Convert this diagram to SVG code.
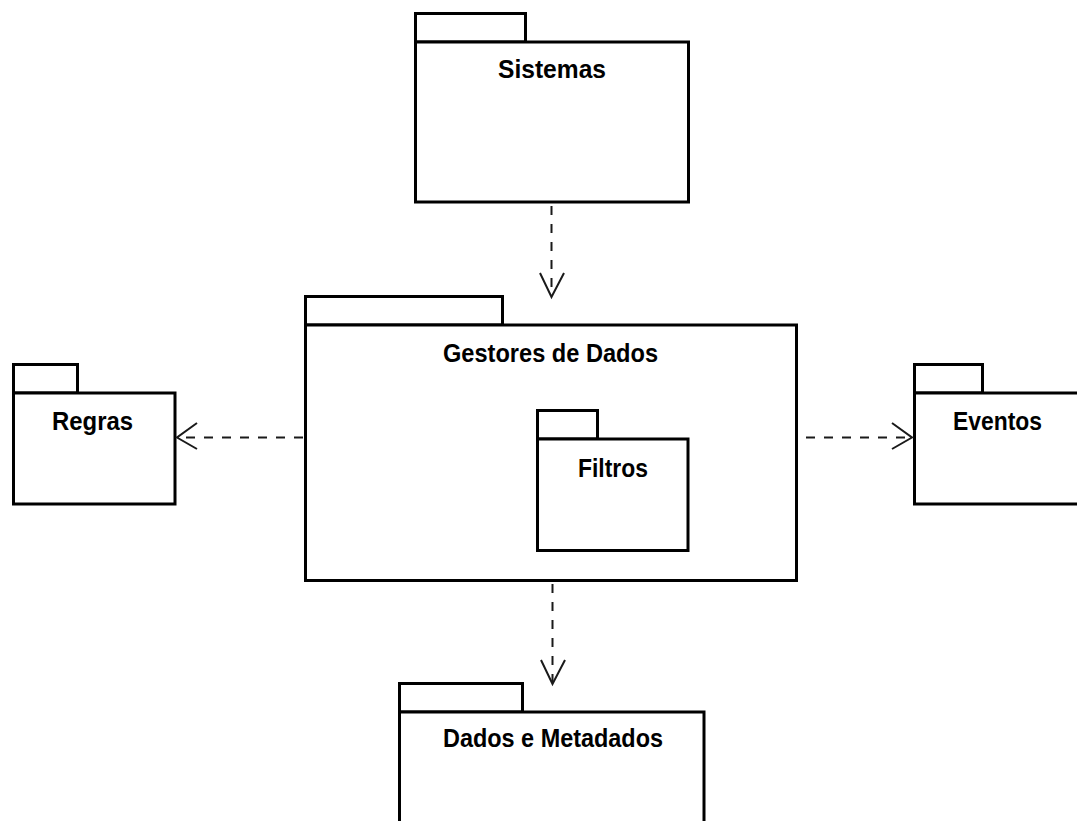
<svg xmlns="http://www.w3.org/2000/svg" width="1077" height="821" viewBox="0 0 1077 821">
  <style>
    .pkg { fill: #ffffff; stroke: #000000; stroke-width: 3; }
    .lbl { font-family: "Liberation Sans", Arial, sans-serif; font-weight: bold; font-size: 25px; fill: #000000; text-anchor: middle; }
    .dep { fill: none; stroke: #1a1a1a; stroke-width: 2; stroke-dasharray: 9 9; }
    .head { fill: none; stroke: #1a1a1a; stroke-width: 2; }
  </style>
  <rect width="1077" height="821" fill="#ffffff"/>

  <g id="sistemas">
    <rect class="pkg" x="415.5" y="13.5" width="110" height="28.5"/>
    <rect class="pkg" x="415.5" y="42" width="273" height="160"/>
    <text class="lbl" x="552" y="78" textLength="108" lengthAdjust="spacingAndGlyphs">Sistemas</text>
  </g>

  <g id="gestores">
    <rect class="pkg" x="305.5" y="296.5" width="197" height="28.5"/>
    <rect class="pkg" x="305.5" y="325" width="491" height="255.5"/>
    <text class="lbl" x="550.5" y="362" textLength="215" lengthAdjust="spacingAndGlyphs">Gestores de Dados</text>
  </g>

  <g id="filtros">
    <rect class="pkg" x="537.5" y="410.5" width="60" height="28.5"/>
    <rect class="pkg" x="537.5" y="439" width="150.5" height="111.5"/>
    <text class="lbl" x="613" y="477" textLength="70" lengthAdjust="spacingAndGlyphs">Filtros</text>
  </g>

  <g id="regras">
    <rect class="pkg" x="13.5" y="364.5" width="64" height="28.5"/>
    <rect class="pkg" x="13.5" y="393" width="161.5" height="111"/>
    <text class="lbl" x="92.5" y="430" textLength="81" lengthAdjust="spacingAndGlyphs">Regras</text>
  </g>

  <g id="eventos">
    <rect class="pkg" x="914.5" y="364.5" width="68" height="28.5"/>
    <rect class="pkg" x="914.5" y="393" width="170" height="111"/>
    <text class="lbl" x="997.5" y="430" textLength="89" lengthAdjust="spacingAndGlyphs">Eventos</text>
  </g>

  <g id="dados">
    <rect class="pkg" x="399.5" y="683.5" width="123" height="28.5"/>
    <rect class="pkg" x="399.5" y="712" width="304.5" height="130"/>
    <text class="lbl" x="553" y="747" textLength="220" lengthAdjust="spacingAndGlyphs">Dados e Metadados</text>
  </g>

  <g id="connectors">
    <!-- Sistemas -> Gestores de Dados -->
    <line class="dep" x1="551.5" y1="206" x2="551.5" y2="296"/>
    <polyline class="head" points="540,273 551.5,297 564,273"/>
    <!-- Gestores de Dados -> Regras -->
    <line class="dep" x1="303" y1="437.5" x2="178" y2="437.5"/>
    <polyline class="head" points="197,423 177,437.5 197,449"/>
    <!-- Gestores de Dados -> Eventos -->
    <line class="dep" x1="806" y1="437.5" x2="912" y2="437.5"/>
    <polyline class="head" points="892,423 912,437.5 892,449"/>
    <!-- Gestores de Dados -> Dados e Metadados -->
    <line class="dep" x1="552.5" y1="584" x2="552.5" y2="683"/>
    <polyline class="head" points="541,660 552.5,684 565,660"/>
  </g>
</svg>
